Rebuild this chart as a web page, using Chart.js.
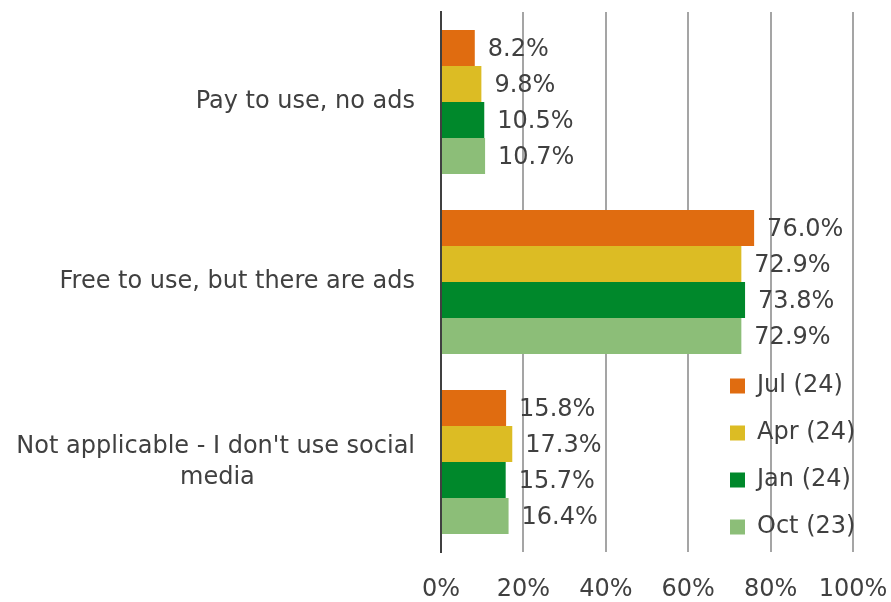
<!DOCTYPE html>
<html><head><meta charset="utf-8">
<script src="https://cdn.jsdelivr.net/npm/chart.js@4"></script>
<style>html,body{margin:0;padding:0;background:#fff}#wrap{width:891px;height:602px;position:relative}</style>
</head><body><div id="wrap"><canvas id="c"></canvas></div>
<script>
const categories = [["Pay to use, no ads"], ["Free to use, but there are ads"], ["Not applicable - I don't use social", "media"]];
const seriesNames = ["Jul (24)", "Apr (24)", "Jan (24)", "Oct (23)"];
const jul24 = [8.2, 76.0, 15.8];
const apr24 = [9.8, 72.9, 17.3];
const jan24 = [10.5, 73.8, 15.7];
const oct23 = [10.7, 72.9, 16.4];
const xTickValues = [0, 20, 40, 60, 80, 100];
const seriesColors = ['#E06C10', '#DCBC24', '#00882B', '#8CBE78'];

const FAMILY = '"DejaVu Sans", sans-serif';
const FS = 24;
const TEXT = '#404040';

const measureCtx = document.createElement('canvas').getContext('2d');
function centerLines(lines) {
  if (!Array.isArray(lines) || lines.length < 2) return lines;
  measureCtx.font = FS + 'px ' + FAMILY;
  const ws = lines.map(l => measureCtx.measureText(l).width);
  const max = Math.max(...ws);
  const sp = measureCtx.measureText(' ').width;
  return lines.map((l, i) => l + ' '.repeat(Math.round((max - ws[i]) / 2 / sp)));
}

const valueLabels = {
  id: 'valueLabels',
  afterDatasetsDraw(chart) {
    const ctx = chart.ctx;
    ctx.save();
    ctx.font = FS + 'px ' + FAMILY;
    ctx.fillStyle = TEXT;
    ctx.textAlign = 'left';
    ctx.textBaseline = 'middle';
    chart.data.datasets.forEach((ds, i) => {
      chart.getDatasetMeta(i).data.forEach((bar, j) => {
        ctx.fillText(ds.data[j].toFixed(1) + '%', bar.x + 13, bar.y + 2);
      });
    });
    ctx.restore();
  }
};

const legendMover = {
  id: 'legendMover',
  afterLayout(chart) {
    const lg = chart.legend, ca = chart.chartArea;
    if (!lg) return;
    lg.left = ca.right - 146;
    lg.right = lg.left + lg.width;
    lg.bottom = ca.bottom + 10;
    lg.top = lg.bottom - lg.height;
  }
};

const datasets = [jul24, apr24, jan24, oct23].map((d, i) => ({
  label: seriesNames[i],
  data: d,
  backgroundColor: seriesColors[i],
  borderWidth: 0,
  categoryPercentage: 0.8,
  barPercentage: 1.0
}));

new Chart(document.getElementById('c'), {
  type: 'bar',
  data: { labels: categories, datasets },
  plugins: [valueLabels, legendMover],
  options: {
    indexAxis: 'y',
    responsive: true,
    maintainAspectRatio: false,
    animation: false,
    devicePixelRatio: 1,
    layout: { padding: { top: 12, right: 38, left: 0, bottom: 0 } },
    plugins: {
      tooltip: { enabled: false },
      legend: {
        position: 'chartArea',
        align: 'end',
        labels: {
          font: { family: FAMILY, size: FS },
          color: TEXT,
          boxWidth: 15,
          boxHeight: 15,
          padding: 23
        }
      }
    },
    scales: {
      x: {
        min: 0, max: 100,
        afterBuildTicks(s) { s.ticks = xTickValues.map(v => ({ value: v })); },
        afterFit(s) { s.height = 50; s.paddingLeft = 0; s.paddingRight = 0; },
        ticks: {
          callback: v => v + '%',
          font: { family: FAMILY, size: FS },
          color: TEXT,
          padding: 23,
          maxRotation: 0
        },
        grid: {
          drawTicks: false,
          color: ctx => ctx.index === 0 ? '#404040' : '#A5A5A5',
          lineWidth: 2
        },
        border: { display: false }
      },
      y: {
        afterFit(s) { s.width = 441; s.paddingTop = 0; s.paddingBottom = 0; },
        ticks: {
          callback(value, index) { return centerLines(categories[index]); },
          font: { family: FAMILY, size: FS, lineHeight: 1.3 },
          color: TEXT,
          padding: 26
        },
        grid: { display: false, drawTicks: false },
        border: { display: true, color: '#404040', width: 2 }
      }
    }
  }
});
</script>
</body></html>
